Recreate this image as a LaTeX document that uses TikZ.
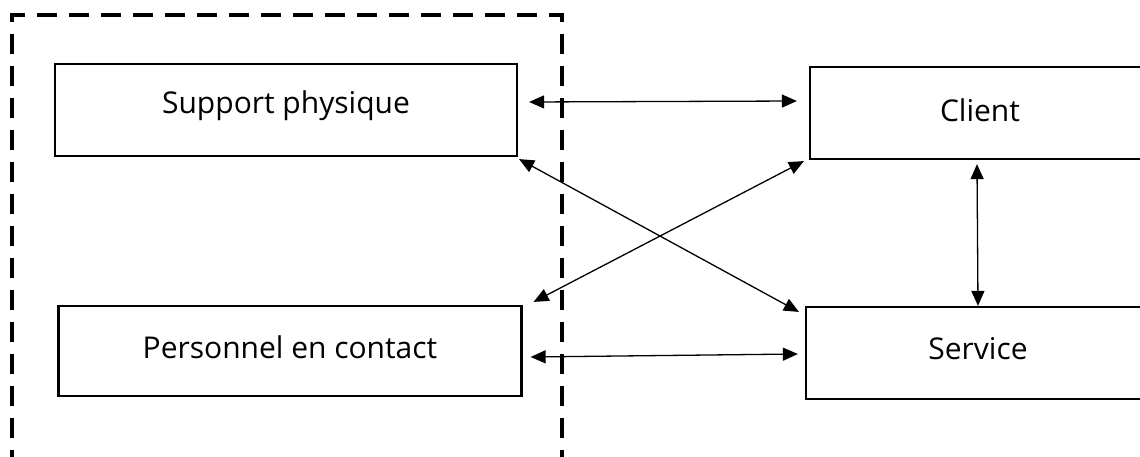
\documentclass[tikz,border=0pt]{standalone}
\usepackage{fontspec}
\setmainfont{Open Sans}
\usetikzlibrary{arrows.meta}
\begin{document}
\begin{tikzpicture}[x=1pt,y=-1pt,
  box/.style={draw=black,line width=2.2pt,rectangle,inner sep=0pt},
  lbl/.style={font=\fontsize{30}{34}\selectfont,inner sep=0pt,anchor=center},
  arr/.style={{Triangle[length=15pt,width=13pt]}-{Triangle[length=15pt,width=13pt]},line width=1.3pt},
  zone/.style={line width=4.5pt,dash pattern=on 20pt off 12pt}]
\useasboundingbox (0,0) rectangle (1140,457);
\node[box,minimum width=462pt,minimum height=92pt] (sp) at (286,110) {};
\node[box,minimum width=340pt,minimum height=92pt] (cl) at (980,113) {};
\node[box,minimum width=463pt,minimum height=90pt] (pc) at (290,351) {};
\node[box,minimum width=344pt,minimum height=92pt] (sv) at (978,353) {};
\node[lbl] (tsp) at ([yshift=4]sp.center) {Support physique};
\node[lbl] (tcl) at ([yshift=3]cl.center) {Client};
\node[lbl] (tpc) at ([yshift=4]pc.center) {Personnel en contact};
\node[lbl] (tsv) at ([yshift=4]sv.center) {Service};
\coordinate (z1) at (12,470);
\coordinate (z2) at (12,15);
\coordinate (z3) at (562,15);
\coordinate (z4) at (562,470);
\draw[zone] (z1) -- (z2) -- (z3) -- (z4);
\draw[arr] ([shift={(11,-8)}]sp.east) -- ([shift={(-12,-12)}]cl.west);
\draw[arr] ([shift={(1,2)}]sp.south east) -- ([shift={(-6,6)}]sv.north west);
\draw[arr] ([shift={(-5,1)}]cl.south west) -- ([shift={(11,-3)}]pc.north east);
\draw[arr] ([shift={(-3,4)}]cl.south) -- (sv.north);
\draw[arr] ([shift={(8,6)}]pc.east) -- ([shift={(-7,1)}]sv.west);
\end{tikzpicture}
\end{document}
